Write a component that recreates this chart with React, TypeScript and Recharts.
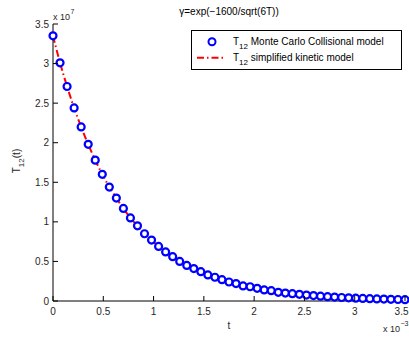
import { ComposedChart, Line, XAxis, YAxis, Legend } from 'recharts'

// time in units of 1e-3, temperature in units of 1e7
const tValues = [
  0, 0.07, 0.14, 0.21, 0.28, 0.35, 0.42, 0.49, 0.56, 0.63,
  0.7, 0.77, 0.84, 0.91, 0.98, 1.05, 1.12, 1.19, 1.26, 1.33,
  1.4, 1.47, 1.54, 1.61, 1.68, 1.75, 1.82, 1.89, 1.96, 2.03,
  2.1, 2.17, 2.24, 2.31, 2.38, 2.45, 2.52, 2.59, 2.66, 2.73,
  2.8, 2.87, 2.94, 3.01, 3.08, 3.15, 3.22, 3.29, 3.36, 3.43, 3.5
]

const monteCarlo = [
  3.35, 3.01, 2.71, 2.44, 2.2, 1.98, 1.78, 1.6, 1.44, 1.3,
  1.17, 1.05, 0.95, 0.85, 0.77, 0.69, 0.62, 0.56, 0.5, 0.45,
  0.41, 0.37, 0.33, 0.3, 0.27, 0.24, 0.22, 0.19, 0.18, 0.16,
  0.14, 0.13, 0.11, 0.1, 0.093, 0.084, 0.075, 0.068, 0.061, 0.055,
  0.049, 0.044, 0.04, 0.036, 0.032, 0.029, 0.026, 0.024, 0.021, 0.019, 0.017
]

const kinetic = [
  3.35, 3.01, 2.71, 2.44, 2.2, 1.98, 1.78, 1.6, 1.44, 1.3,
  1.17, 1.05, 0.95, 0.85, 0.77, 0.69, 0.62, 0.56, 0.5, 0.45,
  0.41, 0.37, 0.33, 0.3, 0.27, 0.24, 0.22, 0.19, 0.18, 0.16,
  0.14, 0.13, 0.11, 0.1, 0.093, 0.084, 0.075, 0.068, 0.061, 0.055,
  0.049, 0.044, 0.04, 0.036, 0.032, 0.029, 0.026, 0.024, 0.021, 0.019, 0.017
]

const xTicks = [0, 0.5, 1, 1.5, 2, 2.5, 3, 3.5]
const yTicks = [0, 0.5, 1, 1.5, 2, 2.5, 3, 3.5]

const FONT = '"Liberation Sans", Arial, Helvetica, sans-serif'
const TEXT = '#262626'
const WIDTH = 409

const data = tValues.map((t, i) => ({ t, mc: monteCarlo[i], kin: kinetic[i] }))

function BottomTick({ x, y, payload }: any) {
  // keep the last label inside the figure edge
  const atEdge = x + 7 > WIDTH
  return (
    <g>
      <line x1={x} x2={x} y1={y} y2={y - 5} stroke="#000" />
      <text
        x={atEdge ? WIDTH - 0.5 : x}
        y={y + 14}
        textAnchor={atEdge ? 'end' : 'middle'}
        fontSize={10}
        fontFamily={FONT}
        fill={TEXT}
      >
        {String(payload.value)}
      </text>
    </g>
  )
}

function LeftTick({ x, y, payload }: any) {
  return (
    <g>
      <line x1={x} x2={x + 5} y1={y} y2={y} stroke="#000" />
      <text x={x - 4} y={y + 3.5} textAnchor="end" fontSize={10} fontFamily={FONT} fill={TEXT}>
        {String(payload.value)}
      </text>
    </g>
  )
}

function TopTick({ x, y }: any) {
  return <line x1={x} x2={x} y1={y} y2={y + 5} stroke="#000" />
}

function RightTick({ x, y }: any) {
  return <line x1={x} x2={x - 5} y1={y} y2={y} stroke="#000" />
}

function LegendBox() {
  return (
    <div style={{ width: 211, height: 40, border: '1px solid #000', background: '#fff', boxSizing: 'border-box' }}>
      <svg width={209} height={38} style={{ display: 'block' }}>
        <circle cx={20} cy={10.7} r={3.5} fill="#fff" stroke="#0000ff" strokeWidth={2} />
        <text x={41} y={14} fontSize={10} fontFamily={FONT} fill="#000">
          T<tspan fontSize={8} dy={4}>12</tspan>
          <tspan dy={-4}> Monte Carlo Collisional model</tspan>
        </text>
        <line x1={5} x2={33} y1={26.7} y2={26.7} stroke="#ff0000" strokeWidth={2} strokeDasharray="7 3 1.5 3" />
        <text x={41} y={30} fontSize={10} fontFamily={FONT} fill="#000">
          T<tspan fontSize={8} dy={4}>12</tspan>
          <tspan dy={-4}> simplified kinetic model</tspan>
        </text>
      </svg>
    </div>
  )
}

export default function App() {
  return (
    <div style={{ position: 'absolute', left: 0, top: 0, width: WIDTH, height: 338, background: '#fff' }}>
      <ComposedChart width={WIDTH} height={338} data={data} margin={{ top: 24, right: 4, bottom: 0, left: 0 }}>
        <XAxis
          dataKey="t"
          type="number"
          domain={[0, 3.5]}
          ticks={xTicks}
          height={37}
          tickSize={0}
          tickMargin={0}
          tickLine={false}
          axisLine={{ stroke: '#000' }}
          tick={<BottomTick />}
          interval={0}
        />
        <XAxis
          xAxisId="top"
          orientation="top"
          dataKey="t"
          type="number"
          domain={[0, 3.5]}
          ticks={xTicks}
          height={0}
          tickSize={0}
          tickMargin={0}
          tickLine={false}
          axisLine={{ stroke: '#000' }}
          tick={<TopTick />}
          interval={0}
        />
        <YAxis
          type="number"
          domain={[0, 3.5]}
          ticks={yTicks}
          width={53}
          tickSize={0}
          tickMargin={0}
          tickLine={false}
          axisLine={{ stroke: '#000' }}
          tick={<LeftTick />}
          interval={0}
        />
        <YAxis
          yAxisId="right"
          orientation="right"
          type="number"
          domain={[0, 3.5]}
          ticks={yTicks}
          width={0}
          tickSize={0}
          tickMargin={0}
          tickLine={false}
          axisLine={{ stroke: '#000' }}
          tick={<RightTick />}
          interval={0}
        />
        <Legend
          layout="vertical"
          align="center"
          verticalAlign="middle"
          wrapperStyle={{ top: 30, left: 191, width: 211 }}
          content={<LegendBox />}
        />
        <Line
          dataKey="kin"
          type="monotone"
          stroke="#ff0000"
          strokeWidth={2}
          strokeDasharray="7 3 1.5 3"
          dot={false}
          activeDot={false}
          isAnimationActive={false}
        />
        <Line
          dataKey="mc"
          stroke="none"
          dot={{ r: 3.5, stroke: '#0000ff', strokeWidth: 2.2, fill: '#fff' }}
          activeDot={false}
          isAnimationActive={false}
        />
      </ComposedChart>
      <svg
        width={WIDTH}
        height={338}
        style={{ position: 'absolute', left: 0, top: 0, pointerEvents: 'none' }}
        fontFamily={FONT}
      >
        <text x={229} y={15} textAnchor="middle" fontSize={10} fill="#000">
          γ=exp(−1600/sqrt(6T))
        </text>
        <text x={53} y={20} fontSize={9} fill={TEXT}>
          x 10<tspan fontSize={7} dx={0.5} dy={-6}>7</tspan>
        </text>
        <text x={383} y={332} fontSize={9} fill={TEXT}>
          x 10<tspan fontSize={7} dx={0.5} dy={-6}>−3</tspan>
        </text>
        <text x={229} y={329} textAnchor="middle" fontSize={10} fill={TEXT}>
          t
        </text>
        <text x={20} y={161} textAnchor="middle" fontSize={10} fill={TEXT} transform="rotate(-90, 20, 161)">
          T<tspan fontSize={8} dy={4}>12</tspan>
          <tspan dy={-4}>(t)</tspan>
        </text>
      </svg>
    </div>
  )
}
